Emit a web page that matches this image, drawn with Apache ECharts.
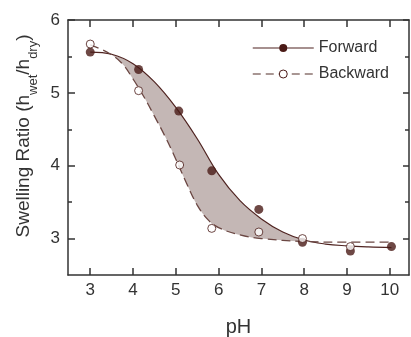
<!DOCTYPE html>
<html>
<head>
<meta charset="utf-8">
<script src="https://cdn.jsdelivr.net/npm/echarts@6/dist/echarts.min.js"></script>
<style>
  html, body { margin: 0; padding: 0; background: #fff; }
  #chart { width: 411px; height: 337px; }
</style>
</head>
<body>
<div id="chart"></div>
<script>
// tick positions
const pHTicks = [3, 4, 5, 6, 7, 8, 9, 10];
const ratioTicks = [3, 4, 5, 6];
const ratioMinorTicks = [3.5, 4.5, 5.5];

// measured points
const forwardPH    = [3.0, 4.13, 5.07, 5.84, 6.94, 7.96, 9.08, 10.04];
const forwardRatio = [5.56, 5.32, 4.75, 3.93, 3.40, 2.95, 2.83, 2.89];
const backwardPH    = [3.0, 4.13, 5.09, 5.84, 6.94, 7.96, 9.08];
const backwardRatio = [5.67, 5.03, 4.01, 3.14, 3.09, 3.00, 2.89];

// fitted curves
const forwardFitPH    = [3.0, 3.5, 4.0, 4.5, 5.0, 5.5, 6.0, 6.5, 7.0, 7.5, 8.0, 8.5, 9.0, 9.5, 10.04];
const forwardFitRatio = [5.56, 5.53, 5.40, 5.15, 4.80, 4.37, 3.88, 3.52, 3.27, 3.09, 2.98, 2.925, 2.90, 2.885, 2.875];
const backwardFitPH    = [3.0, 3.45, 3.75, 4.0, 4.25, 4.5, 4.75, 5.0, 5.25, 5.5, 5.75, 6.0, 6.5, 7.0, 8.0, 9.0, 10.04];
const backwardFitRatio = [5.66, 5.54, 5.40, 5.19, 4.95, 4.68, 4.40, 4.09, 3.76, 3.46, 3.26, 3.15, 3.05, 3.00, 2.96, 2.95, 2.95];

const zip = (xs, ys) => xs.map((x, i) => [x, ys[i]]);

const FONT = "'Liberation Sans', Arial, sans-serif";
const INK = "#333";
const DARK = "#4a1a16";
const SHADE = "#c4b7b5";

const axisLine = { onZero: false, lineStyle: { color: INK, width: 1.5 } };
const tickStyle = { color: INK, width: 1.5 };

const xBase = { type: "value", min: 2.48, max: 10.45, z: 10, splitLine: { show: false }, axisLine };
const yBase = { type: "value", min: 2.5, max: 6, z: 10, splitLine: { show: false }, axisLine };

const chart = echarts.init(document.getElementById("chart"), null, { renderer: "canvas" });

chart.setOption({
  animation: false,
  backgroundColor: "#fff",
  textStyle: { fontFamily: FONT },
  grid: { left: 68, right: 2, top: 20, bottom: 62, outerBoundsMode: "none" },
  legend: {
    orient: "vertical",
    left: 247,
    top: 35,
    itemWidth: 61,
    itemHeight: 10,
    itemGap: 10,
    textStyle: { fontSize: 16, color: INK, fontFamily: FONT },
    data: [
      { name: "Forward", itemStyle: { color: DARK, borderWidth: 0 }, lineStyle: { color: "#4f2320", width: 1.2 } },
      { name: "Backward", itemStyle: { color: "#fff", borderColor: DARK, borderWidth: 1 }, lineStyle: { color: "#8c7470", width: 1.5, type: [8, 5] } },
    ],
  },
  xAxis: [
    {
      ...xBase,
      position: "bottom",
      axisTick: { inside: true, length: 7, customValues: pHTicks, lineStyle: tickStyle },
      axisLabel: { customValues: pHTicks, margin: 7, fontSize: 17, color: INK, fontFamily: FONT },
      name: "pH",
      nameLocation: "middle",
      nameGap: 42,
      nameTextStyle: { fontSize: 20, color: INK, fontFamily: FONT },
    },
    {
      ...xBase,
      position: "top",
      axisTick: { inside: true, length: 7, customValues: pHTicks, lineStyle: tickStyle },
      axisLabel: { show: false },
    },
  ],
  yAxis: [
    {
      ...yBase,
      position: "left",
      axisTick: { inside: true, length: 7, customValues: ratioTicks, lineStyle: tickStyle },
      axisLabel: { customValues: ratioTicks, margin: 8, fontSize: 17, color: INK, fontFamily: FONT },
      name: "{m|Swelling Ratio (h}{s|wet}{m|/h}{s|dry}{m|)}",
      nameLocation: "middle",
      nameGap: 31,
      nameTextStyle: {
        padding: [0, 0, 0, 23],
        rich: {
          m: { fontSize: 19, lineHeight: 20, verticalAlign: "top", color: INK, fontFamily: FONT },
          s: { fontSize: 13, lineHeight: 13, verticalAlign: "top", padding: [12, 0, 0, 0], color: INK, fontFamily: FONT },
        },
      },
    },
    {
      ...yBase,
      position: "left",
      axisLine: { show: false },
      axisTick: { inside: true, length: 4, customValues: ratioMinorTicks, lineStyle: tickStyle },
      axisLabel: { show: false },
    },
    {
      ...yBase,
      position: "right",
      axisTick: { inside: true, length: 6, customValues: ratioTicks, lineStyle: tickStyle },
      axisLabel: { show: false },
    },
    {
      ...yBase,
      position: "right",
      axisLine: { show: false },
      axisTick: { inside: true, length: 4, customValues: ratioMinorTicks, lineStyle: tickStyle },
      axisLabel: { show: false },
    },
  ],
  series: [
    // shaded band: grey under the forward curve (from where the curves meet), then white under the backward curve
    {
      type: "line", data: zip(forwardFitPH, forwardFitRatio).slice(1, -1), smooth: 0.4,
      showSymbol: false, symbol: "none", silent: true, z: 1,
      lineStyle: { width: 0 }, areaStyle: { color: SHADE, opacity: 1, origin: "start" },
    },
    {
      type: "line", data: zip(backwardFitPH, backwardFitRatio), smooth: 0.4,
      showSymbol: false, symbol: "none", silent: true, z: 2,
      lineStyle: { width: 0 }, areaStyle: { color: "#fff", opacity: 1, origin: "start" },
    },
    {
      name: "Forward", type: "line", data: zip(forwardFitPH, forwardFitRatio), smooth: 0.4,
      symbol: "circle", showSymbol: false, z: 3,
      itemStyle: { color: DARK },
      lineStyle: { color: "#4f2320", width: 1.2 },
    },
    {
      name: "Backward", type: "line", data: zip(backwardFitPH, backwardFitRatio), smooth: 0.4,
      symbol: "circle", showSymbol: false, z: 3,
      itemStyle: { color: "#fff", borderColor: DARK },
      lineStyle: { color: "#6b4743", width: 1.3, type: [9, 5] },
    },
    {
      type: "scatter", data: zip(forwardPH, forwardRatio), symbol: "circle", symbolSize: 9, z: 4,
      itemStyle: { color: DARK },
    },
    {
      type: "scatter", data: zip(backwardPH, backwardRatio), symbol: "circle", symbolSize: 8, z: 5,
      itemStyle: { color: "#fff", borderColor: DARK, borderWidth: 1 },
    },
  ],
});
</script>
</body>
</html>
